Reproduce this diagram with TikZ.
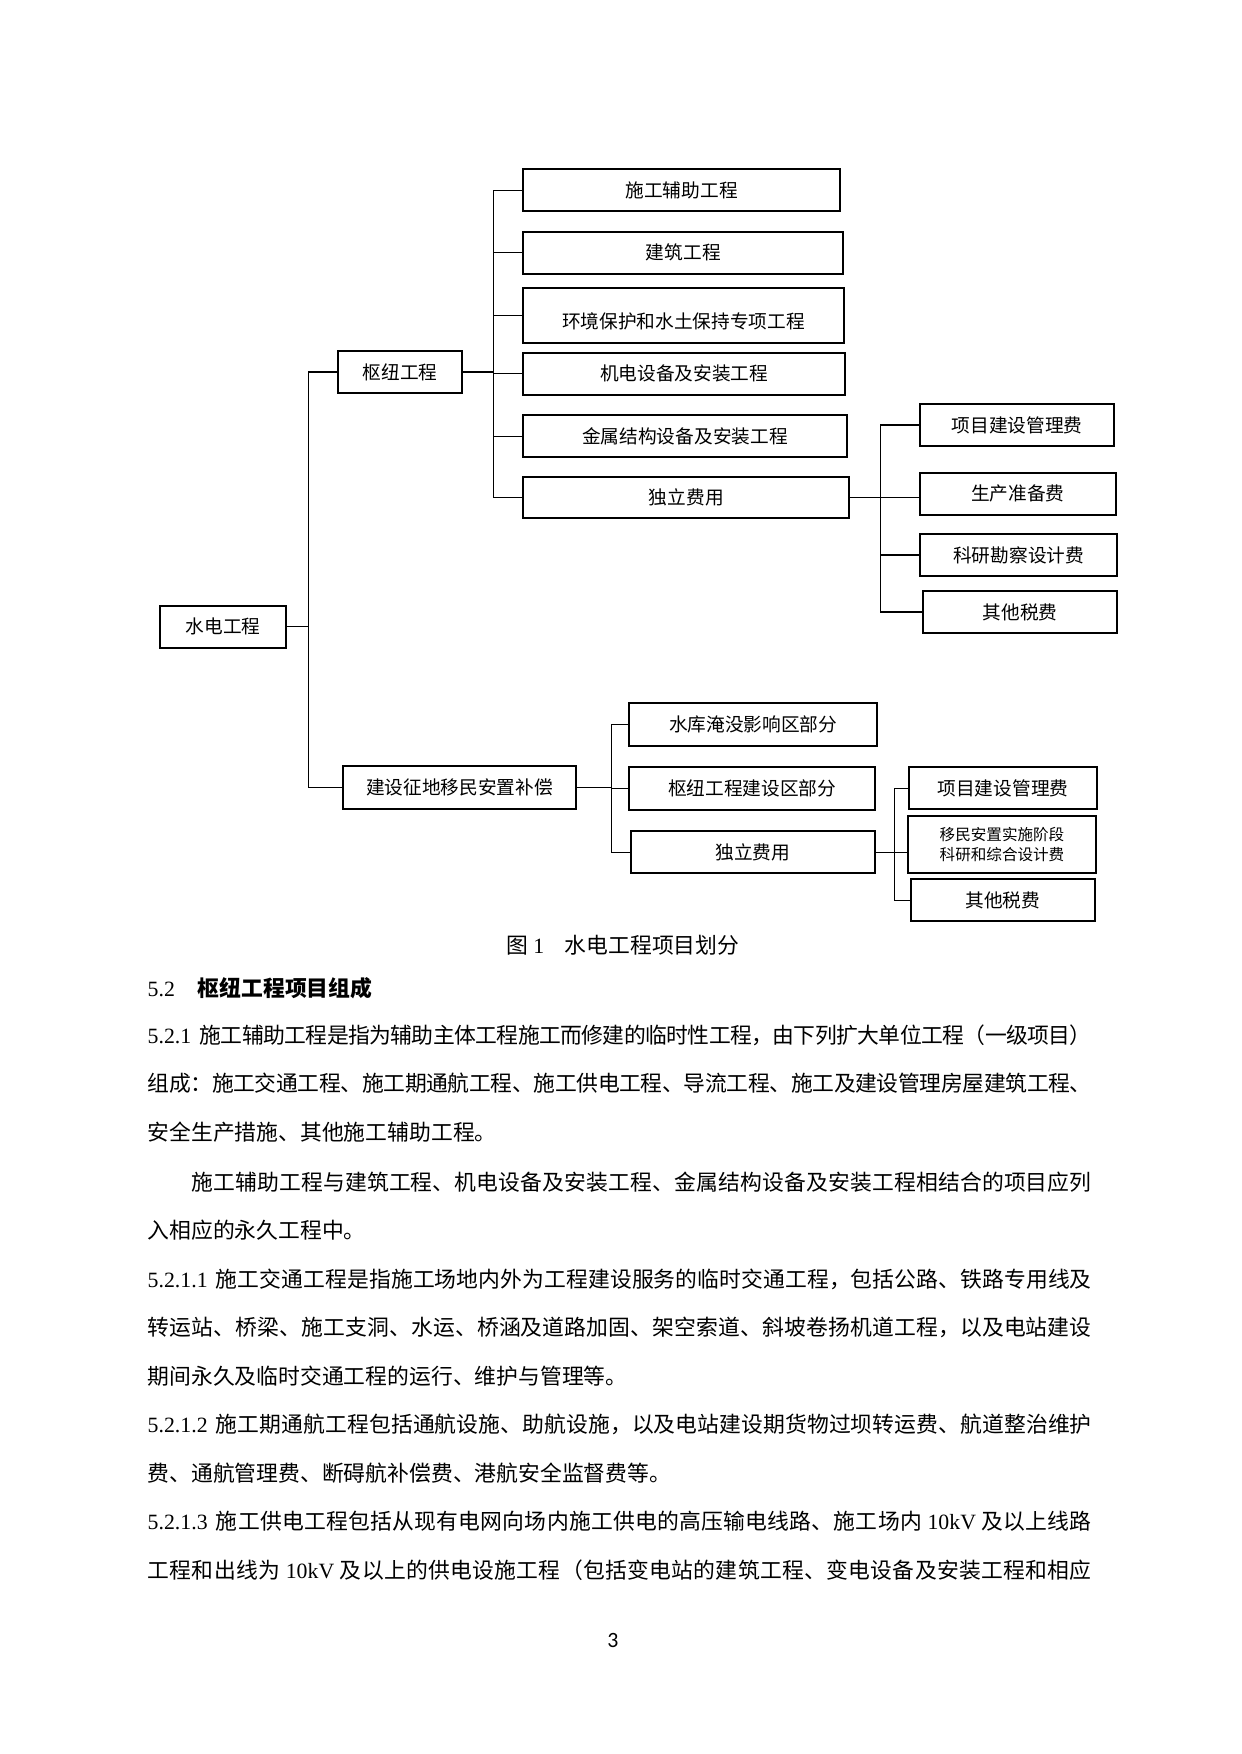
\documentclass[tikz,border=0pt]{standalone}
\usepackage{fontspec}
\setmainfont{Liberation Serif}
\newfontfamily\cjk{Noto Sans CJK SC}
\newfontfamily\pagefont{Carlito}
\newdimen\pxu \pxu=0.16922mm
% inter-character glue between CJK characters (for justified lines)
\XeTeXinterchartokenstate=1
\newXeTeXintercharclass\cjkcls
\count255="3000 \loop \XeTeXcharclass\count255=\cjkcls \advance\count255 by 1 \ifnum\count255<"3040 \repeat
\count255="4E00 \loop \XeTeXcharclass\count255=\cjkcls \advance\count255 by 1 \ifnum\count255<"A000 \repeat
\count255="FF00 \loop \XeTeXcharclass\count255=\cjkcls \advance\count255 by 1 \ifnum\count255<"FFF0 \repeat
\XeTeXinterchartoks\cjkcls\cjkcls={\hskip0pt plus 2pt minus 0.8pt\relax}
\tikzset{
  box/.style={draw, line width=0.8pt, inner sep=0pt, align=center,
    font=\cjk\fontsize{9}{11}\selectfont},
  smallbox/.style={box, font=\cjk\fontsize{7.5}{9.75}\selectfont},
  conn/.style={line width=0.6pt},
  body/.style={anchor=base west, inner sep=0pt, font=\fontsize{10.5}{12}\selectfont},
}
\newcommand\bx[7][box]{\node[#1, minimum width=#5\pxu, minimum height=#6\pxu] (#2) at (#3,#4) {#7};}
\newcommand\jl[1]{\parbox[b]{944\pxu}{\parfillskip=0pt #1}}
\begin{document}
\begin{tikzpicture}[x=\pxu, y=-\pxu]
\useasboundingbox (0,0) rectangle (1241,1754);
% boxes
\bx{A}{223}{626.7}{126}{42}{水电工程}
\bx{B}{400}{372}{124}{42}{枢纽工程}
\bx{C}{459.5}{787.35}{232.4}{42.7}{建设征地移民安置补偿}
\bx{B1}{681.65}{190.15}{316.7}{41.7}{施工辅助工程}
\bx{B2}{683.3}{252.7}{320}{42}{建筑工程}
\bx{B3}{683.5}{315.8}{320.4}{55}{\raisebox{-6\pxu}[\height][\depth]{环境保护和水土保持专项工程}}
\bx{B4}{684.15}{373.85}{321.7}{42.3}{机电设备及安装工程}
\bx{B5}{685}{436.3}{324.6}{42}{金属结构设备及安装工程}
\bx{B6}{686.3}{497.5}{326}{41.6}{独立费用}
\bx{D1}{1017.15}{425}{194.3}{42}{项目建设管理费}
\bx{D2}{1017.85}{493.85}{195.7}{41.7}{生产准备费}
\bx{D3}{1018.65}{555}{197.3}{42}{科研勘察设计费}
\bx{D4}{1020.15}{612}{194.3}{42.6}{其他税费}
\bx{C1}{753.15}{724.35}{248.3}{43.3}{水库淹没影响区部分}
\bx{C2}{752.15}{788.65}{246.3}{42.7}{枢纽工程建设区部分}
\bx{C3}{752.85}{852.3}{243.7}{42}{独立费用}
\bx{E1}{1003}{788.3}{188}{42}{项目建设管理费}
\bx[smallbox]{E2}{1002}{844.35}{188}{56.7}{移民安置实施阶段\\科研和综合设计费}
\bx{E3}{1002.85}{900.15}{184.3}{42.3}{其他税费}
% connectors
\draw[conn] (A.east) -- ++(21.3,0) |- (B.west);
\draw[conn] (A.east) -- ++(21.3,0) |- (C.west);
\foreach \n in {B1,B2,B3,B4,B5,B6} \draw[conn] (B.east) -- ++(30.7,0) |- (\n.west);
\foreach \n in {D1,D3,D4} \draw[conn] (B6.east) -- ++(30.5,0) |- (\n.west);
\draw[conn] (B6.east) -- (B6.east -| D2.west);
\foreach \n in {C1,C2,C3} \draw[conn] (C.east) -- ++(35,0) |- (\n.west);
\foreach \n in {E1,E3} \draw[conn] (C3.east) -- ++(19.3,0) |- (\n.west);
\draw[conn] (C3.east) -- (C3.east -| E2.west);
% caption and heading
\node[body] (cap) at (505.7,953.5) {{\cjk 图} 1\hspace{9.9pt}{\cjk 水电工程项目划分}};
\node[body] (head) at (147.3,996.6) {5.2\hspace{11pt}{\cjk\bfseries 枢纽工程项目组成}};
% body lines
\node[body] (l1) at (147.3,1043.3) {\jl{5.2.1\hspace{4pt}{\cjk 施工辅助工程是指为辅助主体工程施工而修建的临时性工程，由下列扩大单位工程（一级项目）}}};
\node[body] (l2) at (147.3,1091.6) {\jl{{\cjk 组成：施工交通工程、施工期通航工程、施工供电工程、导流工程、施工及建设管理房屋建筑工程、}}};
\node[body] (l3) at (147.3,1140) {{\cjk 安全生产措施、其他施工辅助工程。}};
\node[body] (l4) at (147.3,1190.3) {\jl{\hspace*{21pt}{\cjk 施工辅助工程与建筑工程、机电设备及安装工程、金属结构设备及安装工程相结合的项目应列}}};
\node[body] (l5) at (147.3,1238.3) {{\cjk 入相应的永久工程中。}};
\node[body] (l6) at (147.3,1287.3) {\jl{5.2.1.1\hspace{4pt}{\cjk 施工交通工程是指施工场地内外为工程建设服务的临时交通工程，包括公路、铁路专用线及}}};
\node[body] (l7) at (147.3,1335.8) {\jl{{\cjk 转运站、桥梁、施工支洞、水运、桥涵及道路加固、架空索道、斜坡卷扬机道工程，以及电站建设}}};
\node[body] (l8) at (147.3,1384.3) {{\cjk 期间永久及临时交通工程的运行、维护与管理等。}};
\node[body] (l9) at (147.3,1432.5) {\jl{5.2.1.2\hspace{4pt}{\cjk 施工期通航工程包括通航设施、助航设施，以及电站建设期货物过坝转运费、航道整治维护}}};
\node[body] (l10) at (147.3,1481.3) {{\cjk 费、通航管理费、断碍航补偿费、港航安全监督费等。}};
\node[body] (l11) at (147.3,1529.8) {\jl{5.2.1.3\hspace{4pt}{\cjk 施工供电工程包括从现有电网向场内施工供电的高压输电线路、施工场内} 10kV {\cjk 及以上线路}}};
\node[body] (l12) at (147.3,1578.3) {\jl{{\cjk 工程和出线为} 10kV {\cjk 及以上的供电设施工程（包括变电站的建筑工程、变电设备及安装工程和相应}}};
\node[inner sep=0pt, font=\pagefont\fontsize{10.5}{12}\selectfont] (pg) at (613,1640) {3};
\end{tikzpicture}
\end{document}
